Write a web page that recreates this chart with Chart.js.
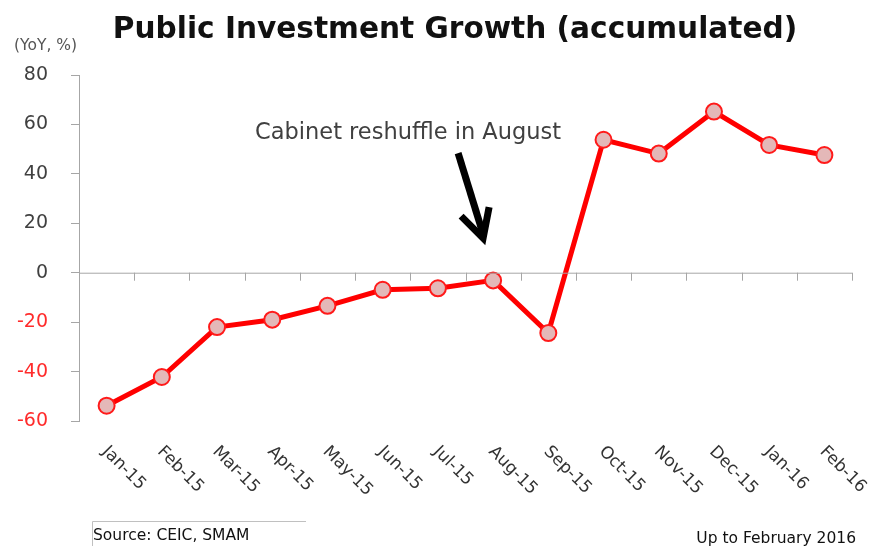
<!DOCTYPE html>
<html lang="en">
<head>
  <meta charset="UTF-8" />
  <title>Public Investment Growth</title>
  <style>
    body { margin: 0; background: #fff; }
    #wrap { width: 880px; height: 546px; }
  </style>
</head>
<body>
  <div id="wrap"><canvas id="chart" width="880" height="546"></canvas></div>

  <script src="https://cdn.jsdelivr.net/npm/chart.js"></script>
  <script>
    // data
    const months = ['Jan-15', 'Feb-15', 'Mar-15', 'Apr-15', 'May-15', 'Jun-15', 'Jul-15',
                    'Aug-15', 'Sep-15', 'Oct-15', 'Nov-15', 'Dec-15', 'Jan-16', 'Feb-16'];
    const growth = [-53.8, -42.2, -22, -19, -13.4, -6.9, -6.3, -3.1, -24.4, 53.8, 48.2, 65.2, 51.7, 47.6];
    const yTicks = [-60, -40, -20, 0, 20, 40, 60, 80];

    const TEXT = '#404040';
    const AXIS = '#a6a6a6';

    // title, notes, zero line and the slanted month labels
    const decorations = {
      id: 'decorations',
      afterDatasetsDraw(chart) {
        const { ctx, chartArea, scales: { x, y } } = chart;
        ctx.save();

        // zero line with ticks between the months
        const y0 = y.getPixelForValue(0);
        ctx.strokeStyle = AXIS;
        ctx.lineWidth = 1;
        ctx.beginPath();
        ctx.moveTo(chartArea.left, y0 + 0.5);
        ctx.lineTo(chartArea.right, y0 + 0.5);
        for (let i = 1; i <= months.length; i++) {
          const bx = i < months.length
            ? (x.getPixelForValue(i - 1) + x.getPixelForValue(i)) / 2
            : chartArea.right;
          ctx.moveTo(Math.round(bx) + 0.5, y0);
          ctx.lineTo(Math.round(bx) + 0.5, y0 + 8);
        }
        ctx.stroke();

        // month labels
        ctx.fillStyle = '#333';
        ctx.font = '17px "DejaVu Sans"';
        ctx.textAlign = 'left';
        ctx.textBaseline = 'middle';
        months.forEach((m, i) => {
          ctx.save();
          ctx.translate(x.getPixelForValue(i) - 2, chartArea.bottom + 28);
          ctx.rotate(Math.PI / 4);
          ctx.fillText(m, 0, 0);
          ctx.restore();
        });

        // title
        ctx.fillStyle = '#111';
        ctx.font = 'bold 29.6px "DejaVu Sans"';
        ctx.textAlign = 'center';
        ctx.textBaseline = 'alphabetic';
        ctx.fillText('Public Investment Growth (accumulated)', 455, 38);

        // unit
        ctx.fillStyle = '#555';
        ctx.font = '15.5px "DejaVu Sans"';
        ctx.textAlign = 'left';
        ctx.fillText('(YoY, %)', 14, 50);

        // annotation + arrow pointing at August
        ctx.fillStyle = TEXT;
        ctx.font = '22.5px "DejaVu Sans"';
        ctx.fillText('Cabinet reshuffle in August', 255, 139);

        const tipX = x.getPixelForValue(7) - 10;
        const tipY = y.getPixelForValue(14);
        ctx.strokeStyle = '#000';
        ctx.lineWidth = 7;
        ctx.lineJoin = 'miter';
        ctx.beginPath();
        ctx.moveTo(tipX - 25, tipY - 85);
        ctx.lineTo(tipX, tipY - 4);
        ctx.stroke();
        ctx.beginPath();
        ctx.moveTo(tipX - 22, tipY - 22);
        ctx.lineTo(tipX, tipY);
        ctx.lineTo(tipX + 6, tipY - 31);
        ctx.stroke();

        // footer
        ctx.strokeStyle = '#c0c0c0';
        ctx.lineWidth = 1;
        ctx.beginPath();
        ctx.moveTo(92.5, 546);
        ctx.lineTo(92.5, 521.5);
        ctx.lineTo(306, 521.5);
        ctx.stroke();
        ctx.fillStyle = '#111';
        ctx.font = '15.5px "DejaVu Sans"';
        ctx.fillText('Source: CEIC, SMAM', 93, 540);
        ctx.textAlign = 'right';
        ctx.fillText('Up to February 2016', 856, 543);

        ctx.restore();
      }
    };

    new Chart(document.getElementById('chart'), {
      type: 'line',
      data: {
        labels: months,
        datasets: [{
          data: growth,
          borderColor: '#ff0000',
          borderWidth: 5,
          tension: 0,
          pointRadius: 8,
          pointBackgroundColor: '#e4b8b8',
          pointBorderColor: '#ff1a1a',
          pointBorderWidth: 2
        }]
      },
      options: {
        responsive: false,
        animation: false,
        layout: { padding: { left: 0, top: 75, right: 28, bottom: 125 } },
        plugins: { legend: { display: false }, tooltip: { enabled: false } },
        scales: {
          x: { display: false, offset: true },
          y: {
            min: -60,
            max: 80,
            afterFit(scale) { scale.width = 79; },
            afterBuildTicks(scale) { scale.ticks = yTicks.map(v => ({ value: v })); },
            ticks: {
              padding: 23,
              font: { family: 'DejaVu Sans', size: 19 },
              color: ctx => ctx.tick.value < 0 ? '#ff2b2b' : TEXT
            },
            grid: { drawOnChartArea: false, tickLength: 8, color: AXIS },
            border: { color: AXIS }
          }
        }
      },
      plugins: [decorations]
    });
  </script>
</body>
</html>
